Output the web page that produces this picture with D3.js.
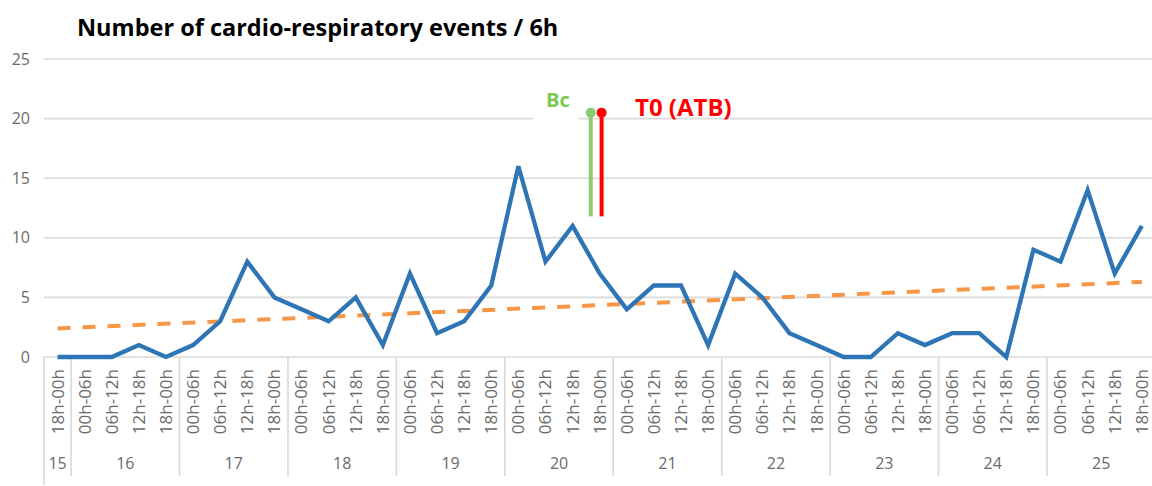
<!DOCTYPE html>
<html>
<head>
<meta charset="utf-8">
<script src="https://cdn.jsdelivr.net/npm/d3@7"></script>
<style>
  html, body { margin: 0; padding: 0; background: #fff; }
  svg { display: block; }
</style>
</head>
<body>
<svg id="chart" width="1152" height="486"></svg>
<script>
// ---- data ----
const title = "Number of cardio-respiratory events / 6h";
const days = ["15", "16", "17", "18", "19", "20", "21", "22", "23", "24", "25"];
const daySlots = [
  ["18h-00h"],
  ["00h-06h", "06h-12h", "12h-18h", "18h-00h"],
  ["00h-06h", "06h-12h", "12h-18h", "18h-00h"],
  ["00h-06h", "06h-12h", "12h-18h", "18h-00h"],
  ["00h-06h", "06h-12h", "12h-18h", "18h-00h"],
  ["00h-06h", "06h-12h", "12h-18h", "18h-00h"],
  ["00h-06h", "06h-12h", "12h-18h", "18h-00h"],
  ["00h-06h", "06h-12h", "12h-18h", "18h-00h"],
  ["00h-06h", "06h-12h", "12h-18h", "18h-00h"],
  ["00h-06h", "06h-12h", "12h-18h", "18h-00h"],
  ["00h-06h", "06h-12h", "12h-18h", "18h-00h"]
];
const events = [
  0,
  0, 0, 1, 0,
  1, 3, 8, 5,
  4, 3, 5, 1,
  7, 2, 3, 6,
  16, 8, 11, 7,
  4, 6, 6, 1,
  7, 5, 2, 1,
  0, 0, 2, 1,
  2, 2, 0, 9,
  8, 14, 7, 11
];
const trendIndex = [0, 40];
const trendValues = [2.4, 6.3];
const yTicks = [0, 5, 10, 15, 20, 25];
// annotation markers: position in slot units, top/bottom values
const markers = [
  { label: "Bc", pos: 19.67, top: 20.5, bottom: 11.8, color: "#8dcb72", textColor: "#7cc851" },
  { label: "T0 (ATB)", pos: 20.07, top: 20.5, bottom: 11.8, color: "#ff0000", textColor: "#ff0000" }
];

// ---- layout ----
const svg = d3.select("#chart");
const nSlots = events.length;
const x = d3.scaleLinear().domain([-0.5, nSlots - 0.5]).range([44, 1155.4]);
const y = d3.scaleLinear().domain([0, 25]).range([357, 59]);
const grey = "#d9d9d9";
const textGrey = "#6b6b6b";

// title
svg.append("text")
  .attr("x", 77).attr("y", 36)
  .attr("font-family", "Open Sans, sans-serif")
  .attr("font-weight", "bold")
  .attr("font-size", 23.5)
  .attr("fill", "#000")
  .text(title);

// gridlines
svg.append("g").selectAll("line").data(yTicks).join("line")
  .attr("x1", 44).attr("x2", 1152)
  .attr("y1", d => y(d)).attr("y2", d => y(d))
  .attr("stroke", grey).attr("stroke-width", 1.6);

// y labels
svg.append("g").selectAll("text").data(yTicks).join("text")
  .attr("x", 30).attr("y", d => y(d))
  .attr("dy", "0.35em")
  .attr("text-anchor", "end")
  .attr("font-family", "Open Sans, sans-serif")
  .attr("font-size", 16)
  .attr("fill", textGrey)
  .text(d => d);

// flatten slots
const slots = [];
const dayRanges = [];
let idx = 0;
daySlots.forEach((arr, di) => {
  const start = idx;
  arr.forEach(s => { slots.push({ label: s, i: idx }); idx++; });
  dayRanges.push({ day: days[di], start, end: idx - 1 });
});

// day separators
const boundaries = dayRanges.map(r => r.start - 0.5);
svg.append("g").selectAll("line").data(boundaries).join("line")
  .attr("x1", d => x(d)).attr("x2", d => x(d))
  .attr("y1", 357).attr("y2", (d, i) => i === 0 ? 485 : 476)
  .attr("stroke", grey).attr("stroke-width", 1.6);

// slot labels (rotated)
svg.append("g").selectAll("text").data(slots).join("text")
  .attr("transform", d => `translate(${x(d.i)},369) rotate(-90)`)
  .attr("dy", "0.35em")
  .attr("text-anchor", "end")
  .attr("font-family", "Open Sans, sans-serif")
  .attr("font-size", 17)
  .attr("fill", textGrey)
  .text(d => d.label);

// day labels
svg.append("g").selectAll("text").data(dayRanges).join("text")
  .attr("x", d => x((d.start + d.end) / 2))
  .attr("y", 463)
  .attr("dy", "0.35em")
  .attr("text-anchor", "middle")
  .attr("font-family", "Open Sans, sans-serif")
  .attr("font-size", 16)
  .attr("fill", textGrey)
  .text(d => d.day);

// trend line
svg.append("path")
  .datum(trendIndex.map((t, i) => [t, trendValues[i]]))
  .attr("d", d3.line().x(d => x(d[0])).y(d => y(d[1])))
  .attr("fill", "none")
  .attr("stroke", "#f79646")
  .attr("stroke-width", 4)
  .attr("stroke-dasharray", "13,12");

// events line
svg.append("path")
  .datum(events)
  .attr("d", d3.line().x((d, i) => x(i)).y(d => y(d)))
  .attr("fill", "none")
  .attr("stroke", "#2e75b6")
  .attr("stroke-width", 4.3)
  .attr("stroke-linejoin", "miter");

// annotation: white box behind Bc
svg.append("rect")
  .attr("x", 533).attr("y", 84).attr("width", 46).attr("height", 36)
  .attr("fill", "#fff");

const mg = svg.append("g");
markers.forEach(m => {
  mg.append("line")
    .attr("x1", x(m.pos)).attr("x2", x(m.pos))
    .attr("y1", y(m.top)).attr("y2", y(m.bottom))
    .attr("stroke", m.color).attr("stroke-width", 4);
  mg.append("circle")
    .attr("cx", x(m.pos)).attr("cy", y(m.top)).attr("r", 5)
    .attr("fill", m.color);
});
mg.append("text")
  .attr("x", x(markers[0].pos) - 21).attr("y", 100)
  .attr("dy", "0.35em")
  .attr("text-anchor", "end")
  .attr("font-family", "Open Sans, sans-serif")
  .attr("font-weight", "bold")
  .attr("font-size", 20)
  .attr("fill", markers[0].textColor)
  .text(markers[0].label);
mg.append("text")
  .attr("x", 635).attr("y", 108)
  .attr("dy", "0.35em")
  .attr("font-family", "Open Sans, sans-serif")
  .attr("font-weight", "bold")
  .attr("font-size", 24)
  .attr("fill", markers[1].textColor)
  .text(markers[1].label);
</script>
</body>
</html>
